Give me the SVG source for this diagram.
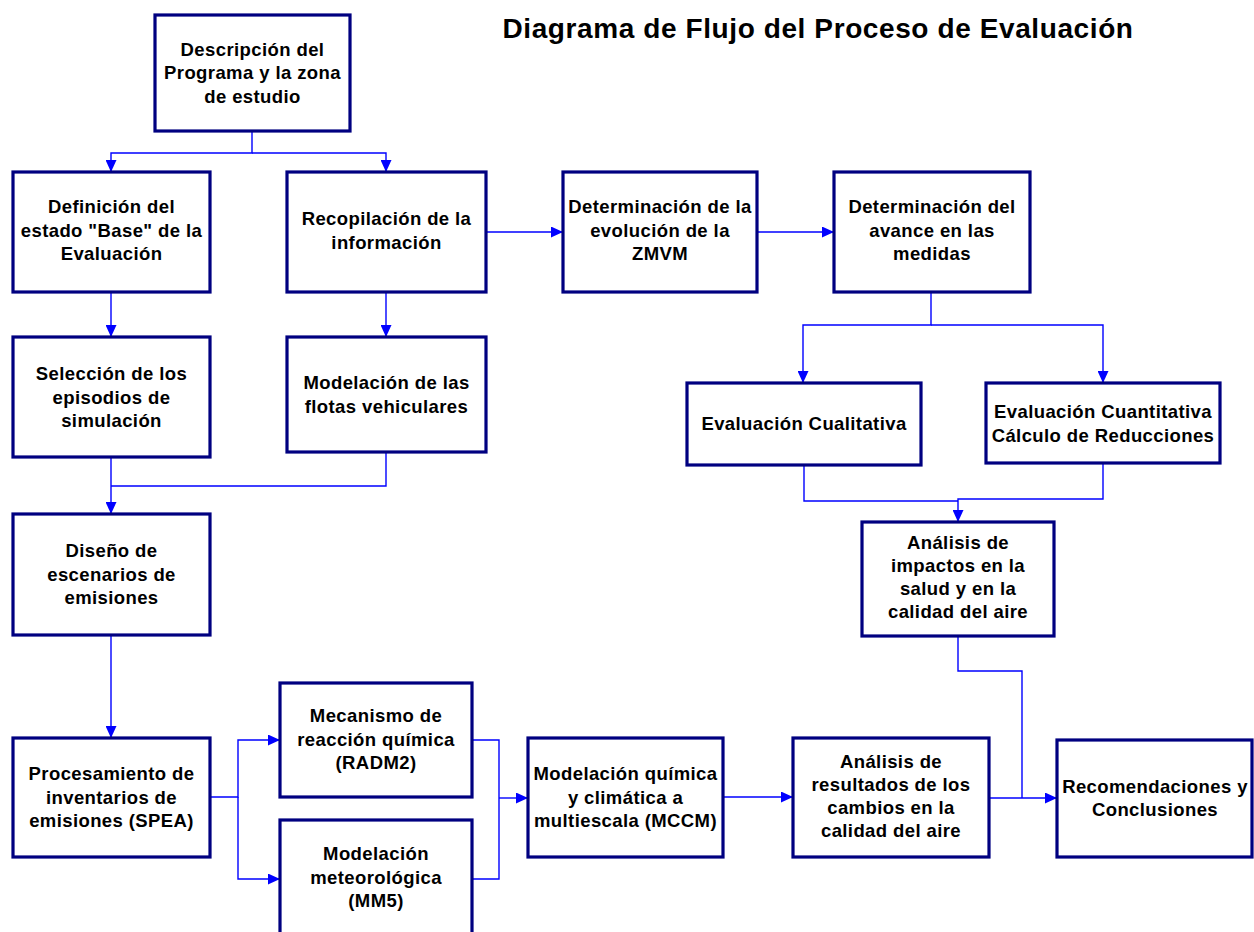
<svg xmlns="http://www.w3.org/2000/svg" width="1254" height="932" viewBox="0 0 1254 932">
<style>
.box{fill:#fff;stroke:#000080;stroke-width:3.2}
.t{font-family:"Liberation Sans",Arial,sans-serif;font-weight:bold;font-size:18.5px;letter-spacing:0.4px;text-anchor:middle;fill:#000}
.title{font-family:"Liberation Sans",Arial,sans-serif;font-weight:bold;font-size:28px;letter-spacing:0.6px;text-anchor:middle;fill:#000}
.c{fill:none;stroke:#0000FF;stroke-width:1.4}
</style>
<defs>
<marker id="ar" markerUnits="userSpaceOnUse" markerWidth="12" markerHeight="11" refX="12" refY="5.5" orient="auto">
<path d="M0,0 L12,5.5 L0,11 z" fill="#0000FF"/>
</marker>
</defs>
<rect width="1254" height="932" fill="#fff"/>
<text class="title" x="818" y="38">Diagrama de Flujo del Proceso de Evaluación</text>

<g id="connectors">
<path class="c" d="M252,131 V153 H111 V172" marker-end="url(#ar)"/>
<path class="c" d="M252,153 H386 V172" marker-end="url(#ar)"/>
<path class="c" d="M111,292 V337" marker-end="url(#ar)"/>
<path class="c" d="M386,292 V337" marker-end="url(#ar)"/>
<path class="c" d="M486,232 H563" marker-end="url(#ar)"/>
<path class="c" d="M757,232 H834" marker-end="url(#ar)"/>
<path class="c" d="M931,292 V325 H803 V383" marker-end="url(#ar)"/>
<path class="c" d="M931,325 H1103 V383" marker-end="url(#ar)"/>
<path class="c" d="M111,457 V486 V514" marker-end="url(#ar)"/>
<path class="c" d="M386,452 V486 H111"/>
<path class="c" d="M804,465 V501 H958"/>
<path class="c" d="M1103,463 V499 H958 V522" marker-end="url(#ar)"/>
<path class="c" d="M958,636 V671 H1022 V798"/>
<path class="c" d="M111,635 V738" marker-end="url(#ar)"/>
<path class="c" d="M210,797 H238 V740 H280" marker-end="url(#ar)"/>
<path class="c" d="M238,797 V879 H280" marker-end="url(#ar)"/>
<path class="c" d="M472,740 H499 V879 H472"/>
<path class="c" d="M499,798 H528" marker-end="url(#ar)"/>
<path class="c" d="M723,797 H793" marker-end="url(#ar)"/>
<path class="c" d="M989,798 H1057" marker-end="url(#ar)"/>
</g>

<g id="n1"><rect class="box" x="155" y="15" width="195" height="116"/>
<text class="t" x="252.5" y="55.5">Descripción del</text><text class="t" x="252.5" y="79">Programa y la zona</text><text class="t" x="252.5" y="102.5">de estudio</text></g>

<g id="n2"><rect class="box" x="13" y="172" width="197" height="120"/>
<text class="t" x="111.5" y="213">Definición del</text><text class="t" x="111.5" y="236.5">estado "Base" de la</text><text class="t" x="111.5" y="260">Evaluación</text></g>

<g id="n3"><rect class="box" x="287" y="172" width="199" height="120"/>
<text class="t" x="386.5" y="225">Recopilación de la</text><text class="t" x="386.5" y="248.5">información</text></g>

<g id="n4"><rect class="box" x="563" y="172" width="194" height="120"/>
<text class="t" x="660" y="213">Determinación de la</text><text class="t" x="660" y="236.5">evolución de la</text><text class="t" x="660" y="260">ZMVM</text></g>

<g id="n5"><rect class="box" x="834" y="172" width="196" height="120"/>
<text class="t" x="932" y="213">Determinación del</text><text class="t" x="932" y="236.5">avance en las</text><text class="t" x="932" y="260">medidas</text></g>

<g id="n6"><rect class="box" x="13" y="337" width="197" height="120"/>
<text class="t" x="111.5" y="380">Selección de los</text><text class="t" x="111.5" y="403.5">episodios de</text><text class="t" x="111.5" y="427">simulación</text></g>

<g id="n7"><rect class="box" x="287" y="337" width="199" height="115"/>
<text class="t" x="386.5" y="389">Modelación de las</text><text class="t" x="386.5" y="412.5">flotas vehiculares</text></g>

<g id="n8"><rect class="box" x="13" y="514" width="197" height="121"/>
<text class="t" x="111.5" y="557">Diseño de</text><text class="t" x="111.5" y="580.5">escenarios de</text><text class="t" x="111.5" y="604">emisiones</text></g>

<g id="n9"><rect class="box" x="687" y="383" width="234" height="82"/>
<text class="t" x="804" y="430">Evaluación Cualitativa</text></g>

<g id="n10"><rect class="box" x="986" y="383" width="234" height="80"/>
<text class="t" x="1103" y="418">Evaluación Cuantitativa</text><text class="t" x="1103" y="441.5">Cálculo de Reducciones</text></g>

<g id="n11"><rect class="box" x="862" y="522" width="192" height="114"/>
<text class="t" x="958" y="549">Análisis de</text><text class="t" x="958" y="572">impactos en la</text><text class="t" x="958" y="595">salud y en la</text><text class="t" x="958" y="618">calidad del aire</text></g>

<g id="n12"><rect class="box" x="13" y="738" width="197" height="119"/>
<text class="t" x="111.5" y="780">Procesamiento de</text><text class="t" x="111.5" y="803.5">inventarios de</text><text class="t" x="111.5" y="827">emisiones (SPEA)</text></g>

<g id="n13"><rect class="box" x="280" y="683" width="192" height="114"/>
<text class="t" x="376" y="722">Mecanismo de</text><text class="t" x="376" y="745.5">reacción química</text><text class="t" x="376" y="769">(RADM2)</text></g>

<g id="n14"><rect class="box" x="280" y="820" width="192" height="120"/>
<text class="t" x="376" y="860">Modelación</text><text class="t" x="376" y="883.5">meteorológica</text><text class="t" x="376" y="907">(MM5)</text></g>

<g id="n15"><rect class="box" x="528" y="738" width="195" height="119"/>
<text class="t" x="625.5" y="780">Modelación química</text><text class="t" x="625.5" y="803.5">y climática a</text><text class="t" x="625.5" y="827">multiescala (MCCM)</text></g>

<g id="n16"><rect class="box" x="793" y="738" width="196" height="119"/>
<text class="t" x="891" y="768">Análisis de</text><text class="t" x="891" y="791">resultados de los</text><text class="t" x="891" y="814">cambios en la</text><text class="t" x="891" y="837">calidad del aire</text></g>

<g id="n17"><rect class="box" x="1057" y="740" width="195" height="117"/>
<text class="t" x="1155" y="793">Recomendaciones y</text><text class="t" x="1155" y="816">Conclusiones</text></g>
</svg>
